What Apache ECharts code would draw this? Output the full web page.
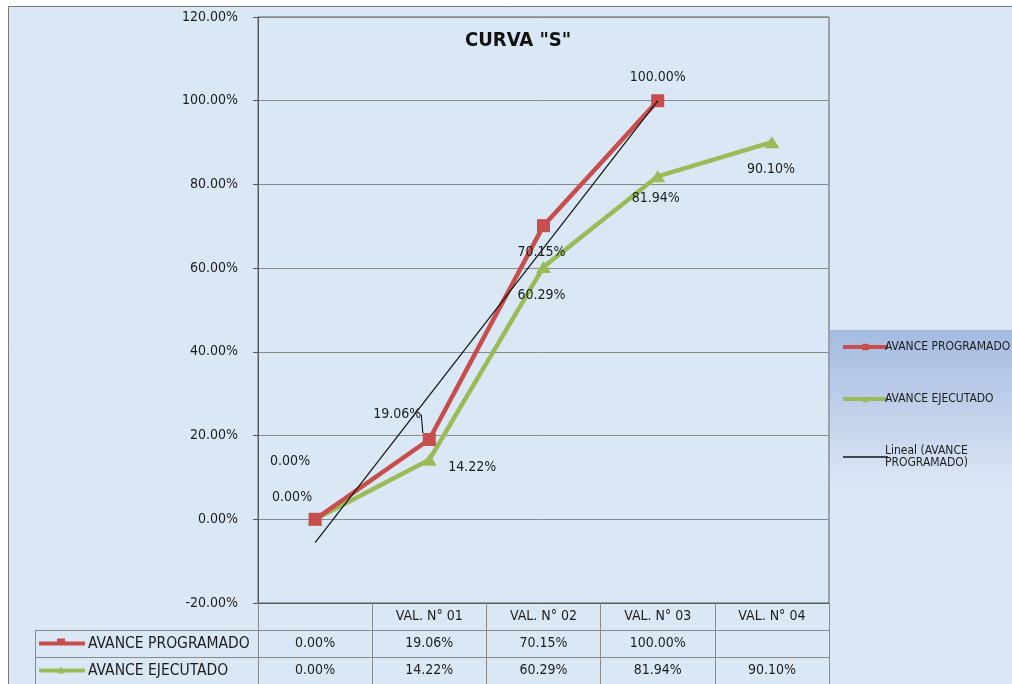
<!DOCTYPE html>
<html>
<head>
<meta charset="utf-8">
<script src="https://cdn.jsdelivr.net/npm/echarts@6/dist/echarts.min.js"></script>
<style>
  html, body { margin: 0; padding: 0; background: #fff; }
  #chart { width: 1012px; height: 684px; }
</style>
</head>
<body>
<div id="chart"></div>
<script>
// datos de la curva S
var categories = ['', 'VAL. N° 01', 'VAL. N° 02', 'VAL. N° 03', 'VAL. N° 04'];
var avanceProgramado = [0.00, 19.06, 70.15, 100.00, null];
var avanceEjecutado = [0.00, 14.22, 60.29, 81.94, 90.10];
// extremos de la linea de tendencia (Lineal), en VAL 0 y VAL 3
var tendenciaIdx = [0, 3];
var tendenciaVal = [-5.6, 99.97];
var yMin = -20, yMax = 120, yStep = 20;

var NOMBRE_PROG = 'AVANCE PROGRAMADO';
var NOMBRE_EJEC = 'AVANCE EJECUTADO';
var NOMBRE_TEND = 'Lineal (AVANCE PROGRAMADO)';

var FONT = '"Liberation Sans Narrow", "DejaVu Sans Condensed", "Liberation Sans", sans-serif';
var ROJO = '#c84d4d';
var VERDE = '#9bbb59';
var FONDO = '#dae8f6';
var TEXTO = '#1c1c1c';

// desplazamiento de etiquetas (estilo)
var offProg = [[-25, -58], [-32, -25], [-2, 27], [0, -23], [0, 0]];
var offEjec = [[-23, -22], [43, 8], [-2, 28], [-2, 22], [-1, 27]];

function pct(v) {
    return (v === null || v === undefined) ? '' : v.toFixed(2) + '%';
}

function buildData(arr, offs, lineIdx) {
    return arr.map(function (v, i) {
        var item = { value: v === null ? '-' : v, label: { offset: offs[i], show: v !== null } };
        if (i === lineIdx) {
            item.labelLine = { show: true };
        }
        return item;
    });
}

var myDom = document.getElementById('chart');
var myChart = echarts.init(myDom);

myChart.setOption({
    backgroundColor: '#fff',
    animation: false,
    title: {
        text: 'CURVA "S"',
        left: 460,
        top: 26,
        textStyle: { fontFamily: FONT, fontSize: 20, fontWeight: 'bold', color: '#111' }
    },
    legend: {
        orient: 'vertical',
        left: 836,
        top: 336,
        itemWidth: 45,
        itemHeight: 8,
        itemGap: 40,
        data: [
            { name: NOMBRE_PROG, lineStyle: { width: 4 } },
            { name: NOMBRE_EJEC, lineStyle: { width: 4 } },
            { name: NOMBRE_TEND, lineStyle: { width: 1.5 }, itemStyle: { opacity: 0 } }
        ],
        formatter: function (name) {
            return name === NOMBRE_TEND ? 'Lineal (AVANCE\nPROGRAMADO)' : name;
        },
        textStyle: { fontFamily: FONT, fontSize: 12, color: TEXTO, lineHeight: 12, padding: [0, 0, 0, -8] }
    },
    grid: {
        left: 258,
        right: 183,
        top: 17,
        bottom: 81,
        show: true,
        borderColor: '#5a5a5a',
        borderWidth: 1,
        backgroundColor: 'transparent'
    },
    xAxis: {
        type: 'category',
        data: categories,
        boundaryGap: true,
        axisLine: { show: true, onZero: false, lineStyle: { color: '#5a5a5a' } },
        axisTick: { show: true, interval: 0, length: 81, lineStyle: { color: '#8a8a8a' } },
        axisLabel: {
            interval: 0,
            margin: 0,
            fontFamily: FONT,
            fontSize: 14,
            lineHeight: 27,
            color: TEXTO,
            formatter: function (value, index) {
                return (value || ' ') + '\n' + (pct(avanceProgramado[index]) || ' ') + '\n' + (pct(avanceEjecutado[index]) || ' ');
            }
        }
    },
    yAxis: {
        type: 'value',
        min: yMin,
        max: yMax,
        interval: yStep,
        axisLine: { show: true, lineStyle: { color: '#5a5a5a' } },
        axisTick: { show: true, length: 5, lineStyle: { color: '#5a5a5a' } },
        axisLabel: {
            margin: 20,
            fontFamily: FONT,
            fontSize: 14,
            color: TEXTO,
            formatter: function (v) { return v.toFixed(2) + '%'; }
        },
        splitLine: { show: true, lineStyle: { color: '#8a8a8a', width: 1 } }
    },
    series: [
        {
            name: NOMBRE_PROG,
            type: 'line',
            symbol: 'rect',
            symbolSize: 13,
            z: 3,
            lineStyle: { color: ROJO, width: 4.5 },
            itemStyle: { color: ROJO },
            label: {
                show: true,
                position: 'inside',
                fontFamily: FONT,
                fontSize: 14,
                color: TEXTO,
                formatter: function (p) { return pct(avanceProgramado[p.dataIndex]); }
            },
            labelLine: { show: false, lineStyle: { color: '#000', width: 1 } },
            data: buildData(avanceProgramado, offProg, 1)
        },
        {
            name: NOMBRE_EJEC,
            type: 'line',
            symbol: 'triangle',
            symbolSize: [15, 12],
            z: 2,
            lineStyle: { color: VERDE, width: 4.5 },
            itemStyle: { color: VERDE },
            label: {
                show: true,
                position: 'inside',
                fontFamily: FONT,
                fontSize: 14,
                color: TEXTO,
                formatter: function (p) { return pct(avanceEjecutado[p.dataIndex]); }
            },
            data: buildData(avanceEjecutado, offEjec, -1)
        },
        {
            name: NOMBRE_TEND,
            type: 'line',
            symbol: 'none',
            z: 4,
            lineStyle: { color: '#111', width: 1.2 },
            itemStyle: { color: '#111' },
            data: tendenciaIdx.map(function (x, i) { return [x, tendenciaVal[i]]; })
        }
    ]
});

// tabla de datos bajo el eje, con la posicion del eje
var c0 = myChart.convertToPixel({ xAxisIndex: 0 }, 0);
var c1 = myChart.convertToPixel({ xAxisIndex: 0 }, 1);
var band = c1 - c0;
var gx0 = c0 - band / 2;
var gx1 = gx0 + band * categories.length;
var yb = myChart.convertToPixel({ yAxisIndex: 0 }, yMin);
var fila = 27;
var tablaX = 35;

function fila_y(n) { return yb + fila * n; }

var graficos = [
    // marco exterior con fondo
    {
        type: 'rect', z: -100, silent: true,
        shape: { x: 8.5, y: 6.5, width: 1100, height: 800 },
        style: { fill: FONDO, stroke: '#7a7a7a', lineWidth: 1 }
    },
    // caja de leyenda
    {
        type: 'rect', z: -90, silent: true,
        shape: { x: gx1 + 1, y: 330, width: 1012 - gx1, height: 157 },
        style: {
            fill: new echarts.graphic.LinearGradient(0, 0, 0, 1, [
                { offset: 0, color: '#a4bbe1' },
                { offset: 1, color: '#dce6f4' }
            ])
        }
    }
];

[1, 2].forEach(function (n) {
    graficos.push({
        type: 'line', silent: true,
        shape: { x1: tablaX, y1: fila_y(n) + 0.5, x2: gx1, y2: fila_y(n) + 0.5 },
        style: { stroke: '#8a8a8a', lineWidth: 1 }
    });
});
graficos.push({
    type: 'line', silent: true,
    shape: { x1: tablaX + 0.5, y1: fila_y(1), x2: tablaX + 0.5, y2: fila_y(3) },
    style: { stroke: '#8a8a8a', lineWidth: 1 }
});

[[NOMBRE_PROG, ROJO, 'rect'], [NOMBRE_EJEC, VERDE, 'tri']].forEach(function (r, i) {
    var cy = fila_y(i + 1) + fila / 2;
    graficos.push({
        type: 'line', silent: true,
        shape: { x1: tablaX + 4, y1: cy, x2: tablaX + 50, y2: cy },
        style: { stroke: r[1], lineWidth: 4 }
    });
    if (r[2] === 'rect') {
        graficos.push({ type: 'rect', silent: true, shape: { x: tablaX + 22, y: cy - 5, width: 8, height: 6 }, style: { fill: r[1] } });
    } else {
        graficos.push({ type: 'polygon', silent: true, shape: { points: [[tablaX + 22, cy + 3], [tablaX + 30, cy + 3], [tablaX + 26, cy - 4]] }, style: { fill: r[1] } });
    }
    graficos.push({
        type: 'text', silent: true,
        x: tablaX + 53, y: cy,
        style: { text: r[0], fontFamily: FONT, fontSize: 15.5, fill: TEXTO, verticalAlign: 'middle', align: 'left' }
    });
});

myChart.setOption({ graphic: graficos });
</script>
</body>
</html>
